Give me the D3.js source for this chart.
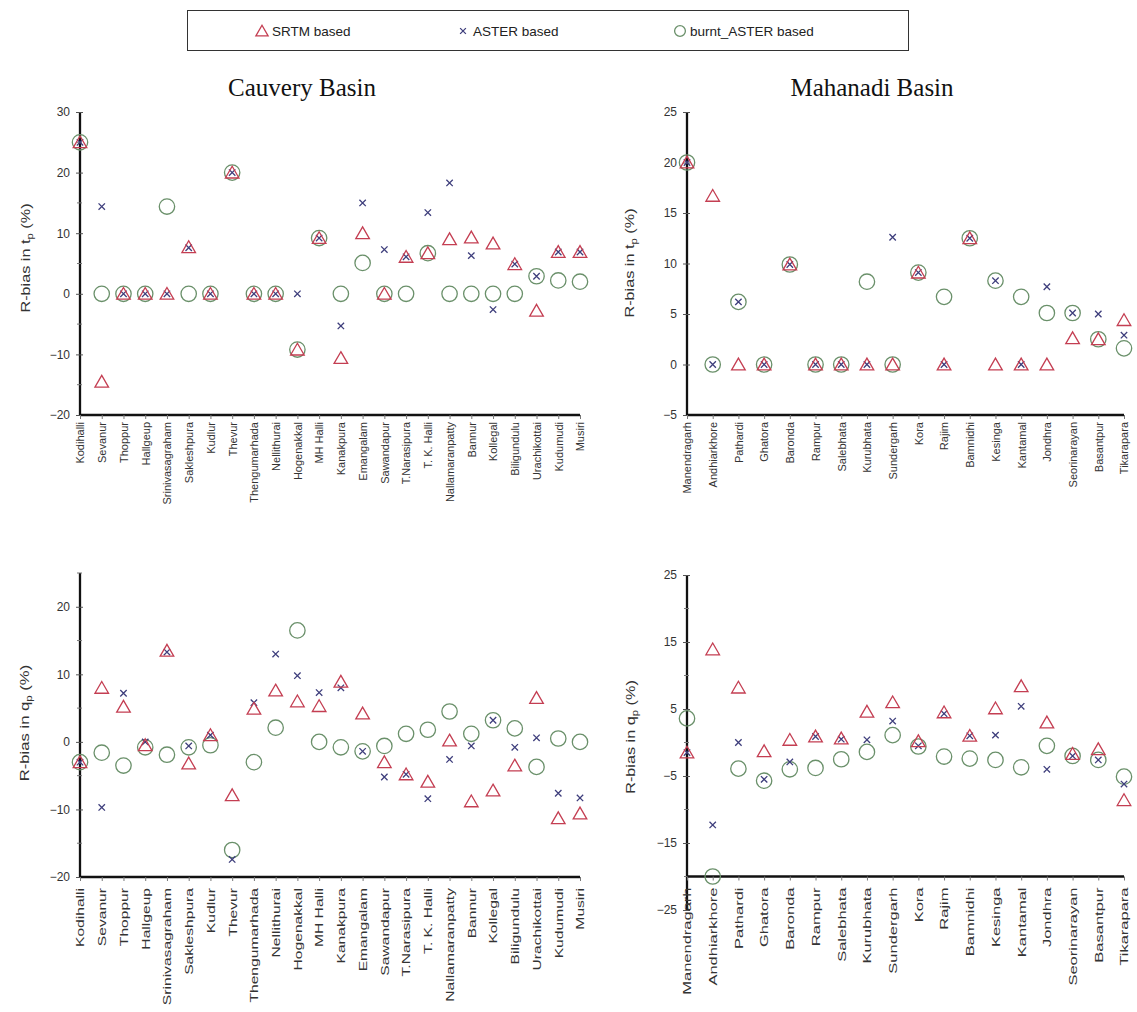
<!DOCTYPE html>
<html>
<head>
<meta charset="utf-8">
<script src="https://cdn.jsdelivr.net/npm/d3@7"></script>
<style>
  html, body { margin: 0; padding: 0; background: #fff; }
  svg { display: block; }
</style>
</head>
<body>
<svg id="chart" width="1137" height="1012"></svg>
<script>
// Station names per basin
const cauveryStations = ["Kodihalli", "Sevanur", "Thoppur", "Hallgeup", "Srinivasagraham", "Sakleshpura",
  "Kudlur", "Thevur", "Thengumarhada", "Nellithurai", "Hogenakkal", "MH Halli", "Kanakpura", "Emangalam",
  "Sawandapur", "T.Narasipura", "T. K. Halli", "Nallamaranpatty", "Bannur", "Kollegal", "Biligundulu",
  "Urachikottai", "Kudumudi", "Musiri"];
const mahanadiStations = ["Manendragarh", "Andhiarkhore", "Pathardi", "Ghatora", "Baronda", "Rampur",
  "Salebhata", "Kurubhata", "Sundergarh", "Kora", "Rajim", "Bamnidhi", "Kesinga", "Kantamal", "Jondhra",
  "Seorinarayan", "Basantpur", "Tikarapara"];

// R-bias in time to peak (%) - Cauvery
const cauveryTpSRTM  = [25, -14.5, 0, 0, 0, 7.7, 0, 20, 0, 0, -9.2, 9.2, -10.6, 10, 0, 6.1, 6.7, 9, 9.3, 8.3, 4.9, -2.8, 6.9, 6.9];
const cauveryTpASTER = [25, 14.4, 0, 0, 0, 7.6, 0, 20, 0, 0, 0, 9.2, -5.3, 15, 7.3, 6.1, 13.4, 18.3, 6.3, -2.6, 4.9, 2.9, 6.9, 6.9];
const cauveryTpBurnt = [25, 0, 0, 0, 14.4, 0, 0, 20, 0, 0, -9.2, 9.2, 0, 5.1, 0, 0, 6.7, 0, 0, 0, 0, 2.9, 2.2, 2];

// R-bias in time to peak (%) - Mahanadi
const mahanadiTpSRTM  = [20, 16.7, 0, 0, 9.9, 0, 0, 0, 0, 9.1, 0, 12.5, 0, 0, 0, 2.6, 2.5, 4.4];
const mahanadiTpASTER = [20, 0, 6.2, 0, 9.9, 0, 0, 0, 12.6, 9.1, 0, 12.5, 8.3, 0, 7.7, 5.1, 5, 2.9];
const mahanadiTpBurnt = [20, 0, 6.2, 0, 9.9, 0, 0, 8.2, 0, 9.1, 6.7, 12.5, 8.3, 6.7, 5.1, 5.1, 2.5, 1.6];

// R-bias in peak discharge (%) - Cauvery
const cauveryQpSRTM  = [-3, 8, 5.2, -0.5, 13.5, -3.2, 1, -7.9, 4.9, 7.6, 6, 5.3, 8.9, 4.2, -3, -4.8, -5.9, 0.2, -8.8, -7.2, -3.5, 6.5, -11.3, -10.6];
const cauveryQpASTER = [-3, -9.7, 7.2, 0, 13.3, -0.6, 1, -17.4, 5.8, 13, 9.8, 7.3, 8, -1.4, -5.2, -4.8, -8.4, -2.6, -0.6, 3.2, -0.8, 0.6, -7.6, -8.3];
const cauveryQpBurnt = [-3, -1.6, -3.5, -0.8, -1.9, -0.8, -0.5, -16, -3, 2.1, 16.5, 0, -0.8, -1.4, -0.6, 1.2, 1.8, 4.5, 1.2, 3.2, 2, -3.7, 0.5, 0];

// R-bias in peak discharge (%) - Mahanadi
const mahanadiQpSRTM  = [-1.5, 13.9, 8.2, -1.3, 0.4, 0.9, 0.6, 4.6, 6, 0.2, 4.5, 1, 5.1, 8.4, 3, -1.7, -1, -8.6];
const mahanadiQpASTER = [-1.5, -12.3, 0, -5.5, -2.9, 0.9, 0.5, 0.4, 3.2, -0.5, 4.3, 1, 1.1, 5.4, -4, -2, -2.6, -6.2];
const mahanadiQpBurnt = [3.6, -20, -3.9, -5.7, -4, -3.8, -2.5, -1.4, 1.1, -0.6, -2.1, -2.4, -2.6, -3.7, -0.5, -2, -2.6, -5.1];

// Axis tick values
const cauveryTpTicks = [-20, -10, 0, 10, 20, 30];
const cauveryTpMinor = [-15, -5, 5, 15, 25];
const mahanadiTpTicks = [-5, 0, 5, 10, 15, 20, 25];
const cauveryQpTicks = [-20, -10, 0, 10, 20];
const cauveryQpMinor = [-15, -5, 5, 15, 25];
const mahanadiQpTicks = [-25, -15, -5, 5, 15, 25];
const mahanadiQpMinor = [-20, -10, 0, 10, 20];

const seriesNames = ["SRTM based", "ASTER based", "burnt_ASTER based"];
const colors = { tri: "#c43e52", cross: "#3e3e7c", circ: "#6a906a" };

const svg = d3.select("#chart");
const sans = "'Liberation Sans', Arial, sans-serif";
const serif = "'Liberation Serif', 'Times New Roman', serif";

// Legend
const legend = svg.append("g");
legend.append("rect").attr("x", 187.5).attr("y", 10.5).attr("width", 721).attr("height", 40)
  .attr("fill", "#fff").attr("stroke", "#333").attr("stroke-width", 1);
const legendItems = [
  { shape: "tri", x: 262, label: seriesNames[0] },
  { shape: "cross", x: 463, label: seriesNames[1] },
  { shape: "circ", x: 680, label: seriesNames[2] }
];

function drawMarker(g, shape, x, y, scale) {
  const s = scale || 1;
  if (shape === "tri") {
    const sym = d3.symbol().type(d3.symbolTriangle).size(80 * s * s);
    g.append("path").attr("d", sym()).attr("transform", `translate(${x},${y + 1.5 * s})`)
      .attr("fill", "none").attr("stroke", colors.tri).attr("stroke-width", 1.3);
  } else if (shape === "cross") {
    const h = 3.2 * s;
    g.append("path").attr("d", `M${x - h},${y - h}L${x + h},${y + h}M${x - h},${y + h}L${x + h},${y - h}`)
      .attr("fill", "none").attr("stroke", colors.cross).attr("stroke-width", 1.3);
  } else {
    g.append("circle").attr("cx", x).attr("cy", y).attr("r", 7.7 * s)
      .attr("fill", "none").attr("stroke", colors.circ).attr("stroke-width", 1.3);
  }
}

legendItems.forEach(it => {
  drawMarker(legend, it.shape, it.x, 31, it.shape === "circ" ? 0.7 : 0.9);
  legend.append("text").attr("x", it.x + 10).attr("y", 36).attr("font-family", sans)
    .attr("font-size", 13.5).attr("fill", "#222").text(it.label);
});

// Titles
svg.append("text").attr("x", 302).attr("y", 96).attr("text-anchor", "middle")
  .attr("font-family", serif).attr("font-size", 25).attr("fill", "#111").text("Cauvery Basin");
svg.append("text").attr("x", 872).attr("y", 96).attr("text-anchor", "middle")
  .attr("font-family", serif).attr("font-size", 25).attr("fill", "#111").text("Mahanadi Basin");

// Panel layouts; stretch factors elongate the rotated labels along their reading direction
const panels = [
  { stations: cauveryStations, series: [cauveryTpSRTM, cauveryTpASTER, cauveryTpBurnt],
    x0: 80, x1: 580, yTop: 112, yBot: 415, domain: [-20, 30], ticks: cauveryTpTicks, minor: cauveryTpMinor,
    xAxisAt: -20, labelVar: "t", labelX: 30, labelY: 258, catStretch: 1.0, labStretch: 1.25 },
  { stations: mahanadiStations, series: [mahanadiTpSRTM, mahanadiTpASTER, mahanadiTpBurnt],
    x0: 687, x1: 1124, yTop: 112, yBot: 415, domain: [-5, 25], ticks: mahanadiTpTicks, minor: [],
    xAxisAt: -5, labelVar: "t", labelX: 634, labelY: 263, catStretch: 1.0, labStretch: 1.25 },
  { stations: cauveryStations, series: [cauveryQpSRTM, cauveryQpASTER, cauveryQpBurnt],
    x0: 80, x1: 580, yTop: 573, yBot: 877, domain: [-20, 25], ticks: cauveryQpTicks, minor: cauveryQpMinor,
    xAxisAt: -20, labelVar: "q", labelX: 29, labelY: 723, catStretch: 1.42, labStretch: 1.28 },
  { stations: mahanadiStations, series: [mahanadiQpSRTM, mahanadiQpASTER, mahanadiQpBurnt],
    x0: 687, x1: 1124, yTop: 575, yBot: 910, domain: [-25, 25], ticks: mahanadiQpTicks, minor: mahanadiQpMinor,
    xAxisAt: -20, labelVar: "q", labelX: 635, labelY: 737, catStretch: 1.5, labStretch: 1.25 }
];

const shapes = ["tri", "cross", "circ"];

panels.forEach(p => {
  const g = svg.append("g");
  const x = d3.scalePoint().domain(p.stations).range([p.x0, p.x1]).padding(0);
  const y = d3.scaleLinear().domain(p.domain).range([p.yBot, p.yTop]);
  const xAxisY = y(p.xAxisAt);

  // y axis
  const yAxis = d3.axisLeft(y).tickValues(p.ticks).tickSize(4).tickPadding(6).tickFormat(d3.format("d"));
  const ya = g.append("g").attr("transform", `translate(${p.x0},0)`).call(yAxis);
  ya.select(".domain").attr("stroke", "#111").attr("stroke-width", 2.3).attr("d", `M0,${p.yTop}V${p.yBot}`);
  ya.selectAll(".tick line").attr("x1", 3).attr("x2", -4).attr("stroke", "#555");
  ya.selectAll(".tick text").attr("font-family", sans).attr("font-size", 12).attr("fill", "#333");
  p.minor.forEach(v => {
    g.append("line").attr("x1", p.x0 - 3).attr("x2", p.x0 + 2).attr("y1", y(v)).attr("y2", y(v))
      .attr("stroke", "#777").attr("stroke-width", 1);
  });

  // x axis
  const xAxis = d3.axisBottom(x).tickSize(4).tickPadding(6);
  const xa = g.append("g").attr("transform", `translate(0,${xAxisY})`).call(xAxis);
  xa.select(".domain").attr("stroke", "#111").attr("stroke-width", 2.3).attr("d", `M${p.x0},0H${p.x1}`);
  xa.selectAll(".tick line").attr("stroke", "#777");
  xa.selectAll(".tick text")
    .attr("font-family", sans).attr("font-size", 11).attr("fill", "#333")
    .attr("text-anchor", "end").attr("dy", "0.35em")
    .attr("transform", `translate(0,${p.catStretch > 1 ? 11 : 7}) rotate(-90) scale(${p.catStretch},1)`)
    .attr("x", 0).attr("y", 0);

  // y axis label
  const lab = g.append("text").attr("transform", `translate(${p.labelX},${p.labelY}) rotate(-90) scale(${p.labStretch},1)`)
    .attr("text-anchor", "middle").attr("font-family", sans).attr("font-size", 13).attr("fill", "#333");
  lab.append("tspan").text(`R-bias in ${p.labelVar}`);
  lab.append("tspan").attr("font-size", 9).attr("dy", 3).text("p");
  lab.append("tspan").attr("dy", -3).text(" (%)");

  // markers: circles, then crosses, then triangles on top
  [2, 1, 0].forEach(si => {
    const mg = g.append("g");
    p.series[si].forEach((v, i) => {
      drawMarker(mg, shapes[si], x(p.stations[i]), y(v), 1);
    });
  });
});
</script>
</body>
</html>
